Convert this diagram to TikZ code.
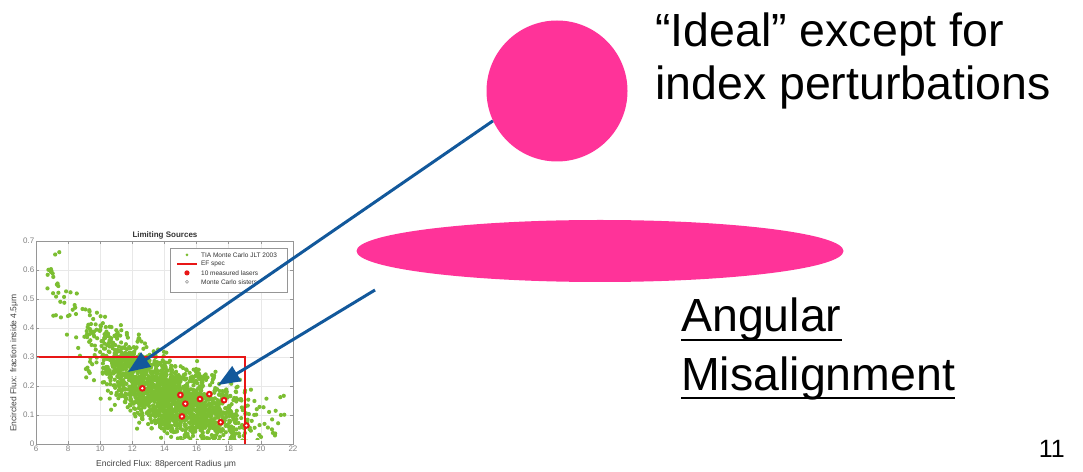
\documentclass[tikz,border=0pt]{standalone}
\usepackage{fontspec}
\setmainfont{Liberation Sans}
\usetikzlibrary{arrows.meta,shapes.geometric}
\definecolor{hotpink}{RGB}{255,51,153}
\definecolor{arrowblue}{RGB}{18,88,155}
\definecolor{dotgreen}{RGB}{124,190,50}
\definecolor{specred}{RGB}{232,22,22}
\definecolor{gridgray}{RGB}{232,232,232}
\definecolor{axisgray}{RGB}{150,150,150}
\tikzset{
  blob/.style={fill=hotpink,draw=none,inner sep=0pt},
  pointer/.style={arrowblue,line width=3pt,-{Triangle[length=22pt,width=17pt]}},
  bigtext/.style={font=\fontsize{46.5}{53}\selectfont,inner sep=0pt,align=left},
  ticklbl/.style={font=\fontsize{8}{9}\selectfont,text=gray,inner sep=1.5pt},
  legtext/.style={font=\fontsize{6.5}{7}\selectfont,text=black!80,inner sep=0pt,anchor=west},
}
\begin{document}
\begin{tikzpicture}[x=1pt,y=1pt]
  \useasboundingbox (0,0) rectangle (1083,471);
  % plot of the limiting sources
  \begin{scope}[shift={(-60.36,27)},x=16.06pt,y=290pt]
    \foreach \X in {8,10,...,20}{
      \draw[gridgray,line width=0.6pt] (\X,0) -- (\X,0.7);
    }
    \foreach \k in {1,...,6}{
      \draw[gridgray,line width=0.6pt] (6,\k/10) -- (22,\k/10);
    }
    \begin{scope}
      \clip (6,0.015) rectangle (22,0.7);
      \pgfmathsetseed{2003}
      \foreach \i in {1,...,2000}{
        \pgfmathsetmacro{\u}{rnd}
        \pgfmathsetmacro{\fx}{\u<0.88 ? 9+10.6*(rnd+rnd)/2 : 6.7+14.8*rnd}
        \pgfmathsetmacro{\fy}{0.03+0.52*exp(-(\fx-7)/5.2)+(rnd+rnd+rnd-1.5)*0.12}
        \fill[dotgreen] (\fx,\fy) circle[radius=2.1pt];
      }
    \end{scope}
    \draw[specred,line width=1.6pt] (6,0.3) -- (19,0.3) -- (19,0);
    \foreach \X/\Y in {12.62/0.192,14.99/0.169,15.3/0.139,15.09/0.095,16.21/0.155,
                       16.79/0.172,17.71/0.151,17.5/0.075,19.1/0.064}{
      \fill[specred] (\X,\Y) circle[radius=3.4pt];
      \fill[white] (\X,\Y) circle[radius=1.3pt];
    }
    \draw[axisgray,line width=0.6pt] (6,0) rectangle (22,0.7);
    \foreach \X in {6,8,...,22}{
      \draw[axisgray,line width=0.6pt] (\X,0) -- ++(0,3pt) (\X,0.7) -- ++(0,-3pt);
      \node[ticklbl,below] (xt\X) at (\X,0) {\X};
    }
    \foreach \k/\t in {0/0,1/0.1,2/0.2,3/0.3,4/0.4,5/0.5,6/0.6,7/0.7}{
      \draw[axisgray,line width=0.6pt] (6,\k/10) -- ++(3pt,0) (22,\k/10) -- ++(-3pt,0);
      \node[ticklbl,left] (yt\k) at (6,\k/10) {\t};
    }
    \node[font=\fontsize{8.5}{9}\selectfont,text=black!75] (xlab) at (14.1,-0.069)
      {Encircled Flux: 88percent Radius μm};
    \node[font=\fontsize{8.5}{9}\selectfont,text=black!75,rotate=90] (ylab) at (4.63,0.279)
      {Encircled Flux: fraction inside 4.5μm};
    \node[font=\bfseries\fontsize{8}{9}\selectfont,text=black!80] (ptitle) at (14.03,0.72)
      {Limiting Sources};
    \filldraw[fill=white,draw=axisgray,line width=0.5pt] (14.34,0.524) rectangle (21.63,0.676);
    \fill[dotgreen] (15.4,0.652) circle[radius=1.5pt];
    \draw[specred,line width=1.3pt] (14.78,0.621) -- (16.02,0.621);
    \fill[specred] (15.4,0.59) circle[radius=2.6pt];
    \draw[black!60,line width=0.4pt] (15.4,0.559) circle[radius=1.5pt];
    \node[legtext] (leg1) at (16.27,0.652) {TIA Monte Carlo JLT 2003};
    \node[legtext] (leg2) at (16.27,0.621) {EF spec};
    \node[legtext] (leg3) at (16.27,0.59) {10 measured lasers};
    \node[legtext] (leg4) at (16.27,0.559) {Monte Carlo sisters};
  \end{scope}
  % shapes and labels
  \node[blob,circle,minimum size=141pt] (ideal) at (557,380) {};
  \node[blob,ellipse,minimum width=487pt,minimum height=62pt] (tilt) at (600,220) {};
  \node[bigtext,anchor=base west] (idealtxt) at (655,371) {“Ideal” except for\\index perturbations};
  \node[bigtext,anchor=base west] (angular) at (681,139) {Angular};
  \node[bigtext,anchor=base west] (misalign) at (681,81) {Misalignment};
  \draw[line width=2.5pt] ([yshift=-8pt]angular.base west) -- ([yshift=-8pt]angular.base east);
  \draw[line width=2.5pt] ([yshift=-8pt]misalign.base west) -- ([yshift=-8pt]misalign.base east);
  \node[font=\fontsize{25}{30}\selectfont,anchor=base east,inner sep=0pt] (pagenum) at (1065,14) {11};
  \coordinate (tipA) at (128,99);
  \coordinate (tipB) at (218,86);
  \coordinate (tailB) at (375,181);
  \draw[pointer] (ideal.205) -- (tipA);
  \draw[pointer] (tailB) -- (tipB);
\end{tikzpicture}
\end{document}
